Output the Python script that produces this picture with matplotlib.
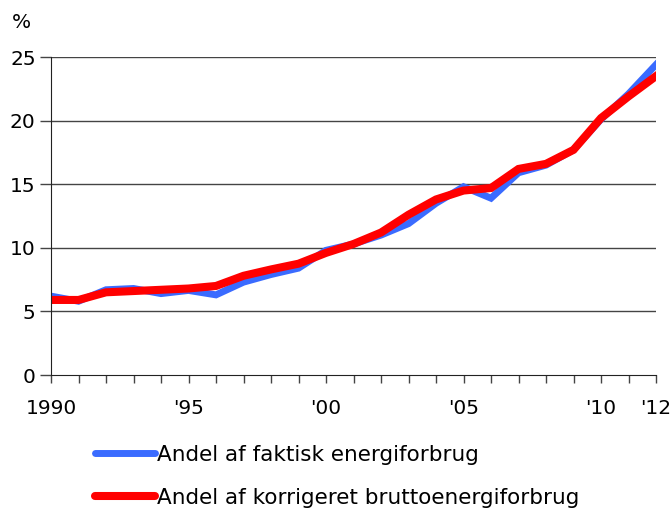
import matplotlib
matplotlib.use("Agg")
import matplotlib.pyplot as plt

years = list(range(1990, 2013))
faktisk = [6.2, 5.8, 6.7, 6.8, 6.4, 6.65, 6.3, 7.3, 7.9, 8.4, 9.8, 10.3, 11.0, 11.9, 13.5, 14.8, 13.9, 15.9, 16.5, 17.7, 20.1, 22.1, 24.4]
korrigeret = [5.9, 5.9, 6.5, 6.6, 6.7, 6.8, 7.0, 7.8, 8.3, 8.75, 9.6, 10.3, 11.2, 12.6, 13.8, 14.5, 14.7, 16.2, 16.6, 17.7, 20.2, 21.9, 23.5]
xtick_pos = [1990, 1995, 2000, 2005, 2010, 2012]
xtick_labels = ["1990", "'95", "'00", "'05", "'10", "'12"]
ytick_vals = [0, 5, 10, 15, 20, 25]
label_faktisk = "Andel af faktisk energiforbrug"
label_korr = "Andel af korrigeret bruttoenergiforbrug"

plt.rcParams['font.family'] = ['DejaVu Sans']
fig = plt.figure(figsize=(6.72, 5.11), dpi=100)
ax = fig.add_axes([51/672, (511-375)/511, (656-51)/672, (375-57)/511])

for y in ytick_vals[1:]:
    ax.axhline(y, color='#444444', lw=1.0, zorder=1)

l1, = ax.plot(years, faktisk, color='#3a6bff', lw=5.0, solid_joinstyle='miter', zorder=3, label=label_faktisk)
l2, = ax.plot(years, korrigeret, color='#ff0000', lw=5.8, solid_joinstyle='miter', zorder=4, label=label_korr)

fs = 14.5
ax.set_xlim(1990, 2012)
ax.set_ylim(0, 25)
ax.set_yticks(ytick_vals)
ax.set_yticklabels([str(v) for v in ytick_vals], fontsize=fs)
ax.set_xticks(years, minor=True)
ax.set_xticks(xtick_pos)
ax.set_xticklabels(xtick_labels, fontsize=fs)
ax.tick_params(axis='x', which='both', direction='out', length=6, width=1, color='#444444', pad=11)
ax.tick_params(axis='y', direction='out', length=8, width=1, color='#444444', pad=3)
for s in ['top', 'right']:
    ax.spines[s].set_visible(False)
ax.spines['left'].set_color('#222222')
ax.spines['bottom'].set_color('#222222')
ax.spines['left'].set_zorder(5)
ax.spines['bottom'].set_zorder(5)

fig.text(21/672, 1-22/511, '%', fontsize=fs, ha='center', va='center')

leg = fig.legend(handles=[l1, l2], loc='upper left', bbox_to_anchor=(95/672, 1-445/511),
                 frameon=False, fontsize=15.5, handlelength=2.8, handletextpad=0.1,
                 labelspacing=1.05, borderaxespad=0, borderpad=0)
for h in leg.legend_handles:
    h.set_solid_capstyle('round')

fig.savefig('out.png', dpi=100)
